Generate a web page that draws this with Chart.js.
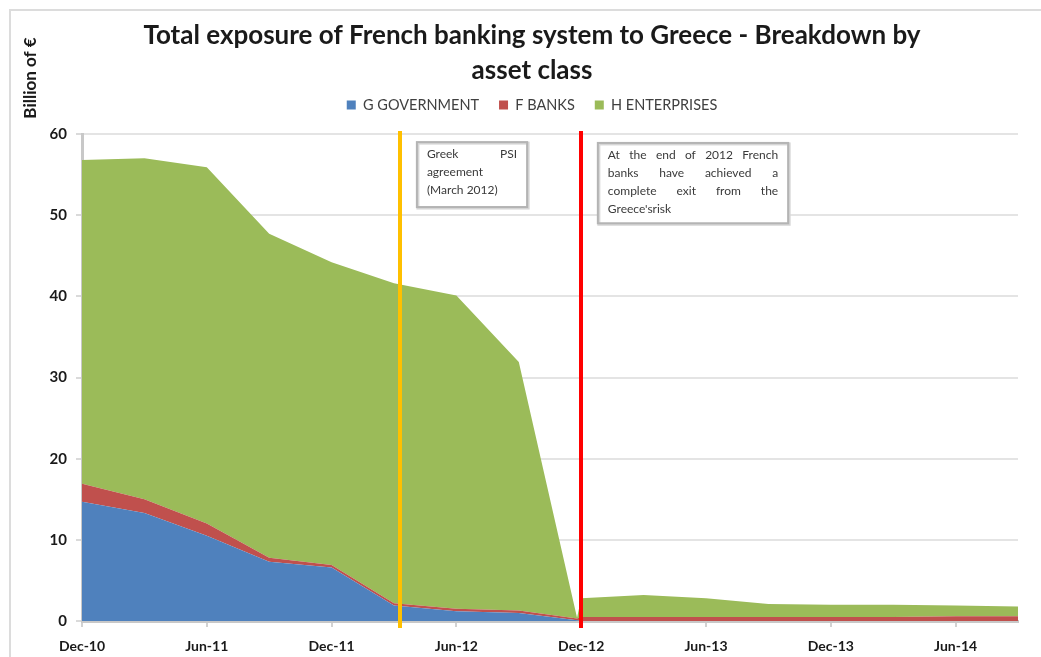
<!DOCTYPE html>
<html><head><meta charset="utf-8">
<script src="https://cdn.jsdelivr.net/npm/chart.js@4"></script>
<style>html,body{margin:0;padding:0;background:#fff;overflow:hidden}#wrap{width:1041px;height:657px;position:relative}</style>
</head><body><div id="wrap"><canvas id="c" width="1041" height="657"></canvas></div>
<script>
// ---- data (months after Dec-10) ----
const months      = [0, 3, 6, 9, 12, 15, 18, 21, 23.8, 24, 27, 30, 33, 36, 39, 42, 45];
const government  = [14.7, 13.3, 10.5, 7.3, 6.6, 1.9, 1.2, 1.0, 0.1, 0, 0, 0, 0, 0, 0, 0, 0];
const banks       = [2.2, 1.7, 1.5, 0.5, 0.3, 0.3, 0.3, 0.3, 0.2, 0.5, 0.5, 0.5, 0.5, 0.5, 0.5, 0.6, 0.6];
const enterprises = [39.9, 42.0, 43.9, 39.9, 37.3, 39.4, 38.6, 30.6, 0.1, 2.3, 2.7, 2.3, 1.6, 1.5, 1.5, 1.3, 1.2];
const seriesNames = ['G GOVERNMENT', 'F BANKS', 'H ENTERPRISES'];
const tickMonths  = [0, 6, 12, 18, 24, 30, 36, 42];
const tickLabels  = ['Dec-10', 'Jun-11', 'Dec-11', 'Jun-12', 'Dec-12', 'Jun-13', 'Dec-13', 'Jun-14'];
const markerMonths = [15.3, 24];
const titleLines  = ['Total exposure of French banking system to Greece - Breakdown by', 'asset class'];
const yTitle      = 'Billion of \u20AC';
const note1Lines  = ['Greek PSI', 'agreement', '(March 2012)'];
const note2Lines  = ['At the end of 2012 French', 'banks have achieved a', 'complete exit from the', "Greece'srisk"];

// ---- styling / placement ----
const colors = ['#4F81BD', '#C0504D', '#9BBB59'];
const markerColors = ['#FFC000', '#FF0000'];
const notes = [
  {x0: 16.1, x1: 21.4, y0: 59.0, y1: 51.0, lines: note1Lines, justify: [true, false, false]},
  {x0: 24.8, x1: 33.95, y0: 58.9, y1: 49.0, lines: note2Lines, justify: [true, true, true, false]}
];

const toPts = vals => months.map((m, i) => ({x: m, y: vals[i]}));
const mk = (i, vals, fill) => ({
  label: seriesNames[i], data: toPts(vals), xAxisID: 'x', yAxisID: 'y',
  backgroundColor: colors[i], borderColor: colors[i], borderWidth: 0,
  pointRadius: 0, pointHoverRadius: 0, fill: fill, tension: 0
});

function drawJustified(ctx, text, x, y, w, justify) {
  if (!justify) { ctx.fillText(text, x, y); return; }
  const words = text.split(' ');
  const widths = words.map(t => ctx.measureText(t).width);
  const sum = widths.reduce((a, b) => a + b, 0);
  const gap = words.length > 1 ? (w - sum) / (words.length - 1) : 0;
  let cx = x;
  words.forEach((t, i) => { ctx.fillText(t, cx, y); cx += widths[i] + gap; });
}

const decor = {
  id: 'decor',
  beforeDraw(chart) {
    const ctx = chart.ctx;
    ctx.save();
    ctx.strokeStyle = '#dcdcdc';
    ctx.lineWidth = 2;
    ctx.strokeRect(10, 10, 1100, 700);
    ctx.restore();
  },
  afterDatasetsDraw(chart) {
    const ctx = chart.ctx, xs = chart.scales.x, ys = chart.scales.y, a = chart.chartArea;
    ctx.save();
    markerMonths.forEach((m, i) => {
      const px = Math.round(xs.getPixelForValue(m));
      ctx.strokeStyle = markerColors[i];
      ctx.lineWidth = 4;
      ctx.beginPath();
      ctx.moveTo(px, a.top - 3);
      ctx.lineTo(px, a.bottom + 7);
      ctx.stroke();
    });
    notes.forEach(n => {
      const l = xs.getPixelForValue(n.x0), r = xs.getPixelForValue(n.x1);
      const t = ys.getPixelForValue(n.y0), b = ys.getPixelForValue(n.y1);
      ctx.fillStyle = '#ffffff';
      ctx.fillRect(l, t, r - l, b - t);
      ctx.strokeStyle = '#d6d6d6';
      ctx.lineWidth = 3;
      ctx.strokeRect(l + 1, t + 1, r - l, b - t);
      ctx.strokeStyle = '#b4b4b4';
      ctx.lineWidth = 2;
      ctx.strokeRect(l, t, r - l, b - t);
      ctx.fillStyle = '#3a3a3a';
      ctx.font = '12px Lato';
      ctx.textBaseline = 'middle';
      ctx.textAlign = 'left';
      n.lines.forEach((line, i) => {
        drawJustified(ctx, line, l + 10, t + 12.5 + i * 18, (r - l) - 20, n.justify[i]);
      });
    });
    ctx.restore();
  },
  afterDraw(chart) {
    const ctx = chart.ctx;
    ctx.save();
    ctx.translate(31, 78);
    ctx.rotate(-Math.PI / 2);
    ctx.font = 'bold 17px Lato';
    ctx.fillStyle = '#1a1a1a';
    ctx.textAlign = 'center';
    ctx.textBaseline = 'middle';
    ctx.fillText(yTitle, 0, 0);
    ctx.restore();
  }
};

new Chart(document.getElementById('c'), {
  type: 'line',
  data: {
    datasets: [mk(0, government, 'origin'), mk(1, banks, '-1'), mk(2, enterprises, '-1')]
  },
  options: {
    responsive: false,
    animation: false,
    devicePixelRatio: 1,
    layout: {padding: {left: 46, right: 23, top: 0, bottom: 0}},
    plugins: {
      title: {
        display: true, text: titleLines, color: '#1a1a1a',
        font: {family: 'Lato', weight: 'bold', size: 26, lineHeight: 35 / 26},
        padding: {top: 18.5, bottom: -10.75}
      },
      legend: {
        display: true, position: 'top',
        labels: {font: {family: 'Lato', size: 14.5}, color: '#404040', boxWidth: 9, boxHeight: 9, padding: 20}
      },
      tooltip: {enabled: false}
    },
    scales: {
      x: {
        type: 'linear', position: 'bottom', min: 0, max: 45,
        afterBuildTicks: s => { s.ticks = tickMonths.map(v => ({value: v})); },
        afterFit: s => { s.height = 36; },
        ticks: {
          callback: v => { const i = tickMonths.indexOf(v); return i >= 0 ? tickLabels[i] : ''; },
          font: {family: 'Lato', weight: 'bold', size: 14}, color: '#1a1a1a', padding: 11,
          maxRotation: 0, autoSkip: false
        },
        grid: {drawOnChartArea: false, drawTicks: true, tickLength: 6, color: '#d2d2d2', lineWidth: 2},
        border: {display: true, color: '#c8c8c8', width: 3}
      },
      y: {
        type: 'linear', position: 'left', stacked: true, min: 0, max: 60,
        afterFit: s => { s.width = 36; },
        ticks: {stepSize: 10, font: {family: 'Lato', weight: 'bold', size: 15}, color: '#1a1a1a', padding: 9},
        grid: {color: '#e4e4e4', lineWidth: 2, tickLength: 6, tickColor: '#dadada'},
        border: {display: true, color: '#c8c8c8', width: 3}
      },
      xTop: {
        type: 'linear', position: 'top', display: true,
        afterFit: s => { s.height = 11.75; },
        ticks: {display: false}, grid: {display: false}, border: {display: false}
      }
    }
  },
  plugins: [decor]
});
</script>
</body></html>
